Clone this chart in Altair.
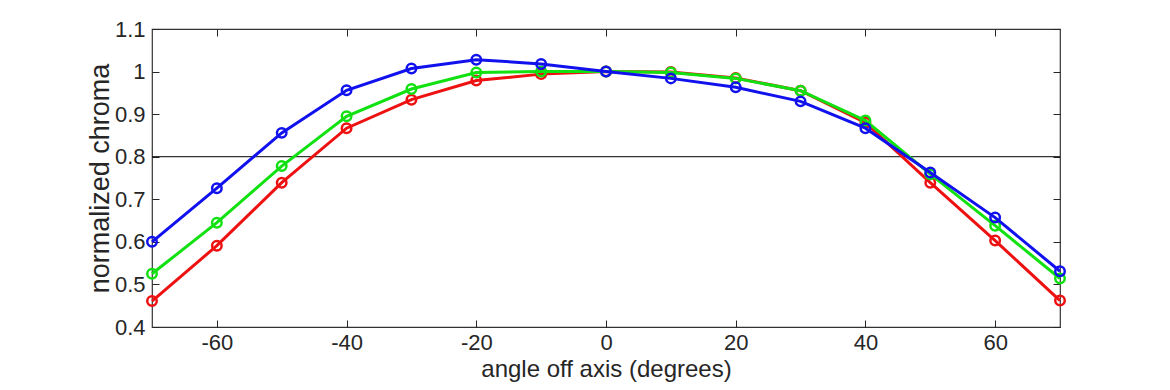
import altair as alt
import pandas as pd

angles = [-70, -60, -50, -40, -30, -20, -10, 0, 10, 20, 30, 40, 50, 60, 70]
red = [0.461, 0.591, 0.739, 0.867, 0.934, 0.979, 0.994, 1.0, 0.999, 0.985, 0.955, 0.880, 0.739, 0.603, 0.462]
green = [0.525, 0.645, 0.778, 0.895, 0.959, 0.998, 1.0, 1.0, 0.998, 0.984, 0.955, 0.885, 0.759, 0.638, 0.514]
blue = [0.600, 0.726, 0.856, 0.956, 1.007, 1.028, 1.018, 1.0, 0.984, 0.963, 0.930, 0.867, 0.763, 0.657, 0.531]

series_names = ["red", "green", "blue"]
series_colors = ["#ee1111", "#11e011", "#1111ee"]
x_ticks = [-60, -40, -20, 0, 20, 40, 60]
y_ticks = [0.4, 0.5, 0.6, 0.7, 0.8, 0.9, 1.0, 1.1]
threshold = [0.8]

FONT = "Liberation Sans"
TXT = "#262626"
TICK = 7

xscale = alt.Scale(domain=[-70, 70], nice=False, zero=False)
yscale = alt.Scale(domain=[0.4, 1.1], nice=False, zero=False)

bottom_axis = alt.Axis(
    orient="bottom", offset=-TICK, values=x_ticks, tickSize=TICK, tickColor=TXT,
    domain=False, grid=False, labelFont=FONT, labelFontSize=22, labelColor=TXT,
    labelPadding=5, labelExpr="toString(datum.value)",
    title="angle off axis (degrees)", titleFont=FONT,
    titleFontSize=24, titleFontWeight="normal", titleColor=TXT, titlePadding=4,
)
left_axis = alt.Axis(
    orient="left", offset=-TICK, values=y_ticks, tickSize=TICK, tickColor=TXT,
    domain=False, grid=False, labelFont=FONT, labelFontSize=22, labelColor=TXT,
    labelPadding=7, format=".1~f", title="normalized chroma", titleFont=FONT,
    titleFontSize=27, titleFontWeight="normal", titleColor=TXT, titlePadding=0,
)
top_axis = alt.Axis(
    orient="top", offset=-TICK, values=x_ticks, tickSize=TICK, tickColor=TXT,
    domain=False, grid=False, labels=False, title=None,
)
right_axis = alt.Axis(
    orient="right", offset=-TICK, values=y_ticks, tickSize=TICK, tickColor=TXT,
    domain=False, grid=False, labels=False, title=None,
)

rule = alt.Chart(pd.DataFrame({"v": threshold})).mark_rule(
    color="black", strokeWidth=1
).encode(
    y=alt.Y("v:Q", scale=yscale, axis=right_axis),
)
frame_top = alt.Chart(pd.DataFrame({"a": x_ticks})).mark_point(opacity=0).encode(
    x=alt.X("a:Q", scale=xscale, axis=top_axis),
)

layers = [rule, frame_top]
for i, (name, vals, col) in enumerate(zip(series_names, [red, green, blue], series_colors)):
    df = pd.DataFrame({"angle": angles, "value": vals})
    xa = bottom_axis if i == 0 else None
    ya = left_axis if i == 0 else None
    line = alt.Chart(df).mark_line(color=col, strokeWidth=3).encode(
        x=alt.X("angle:Q", scale=xscale, axis=xa),
        y=alt.Y("value:Q", scale=yscale, axis=ya),
    )
    pts = alt.Chart(df).mark_point(
        shape="circle", filled=False, color=col, size=90, strokeWidth=2.5, opacity=1
    ).encode(
        x=alt.X("angle:Q", scale=xscale, axis=None),
        y=alt.Y("value:Q", scale=yscale, axis=None),
    )
    layers += [line, pts]

chart = alt.layer(*layers).resolve_axis(
    x="independent", y="independent"
).properties(
    width=908, height=298,
    padding={"left": 144, "top": 21, "right": 102, "bottom": 55},
    autosize=alt.AutoSizeParams(type="none"),
    background="white",
).configure_view(
    stroke="#333333", strokeWidth=1.2
)

chart.save("out.html", embed_options={"renderer": "svg", "actions": False})
